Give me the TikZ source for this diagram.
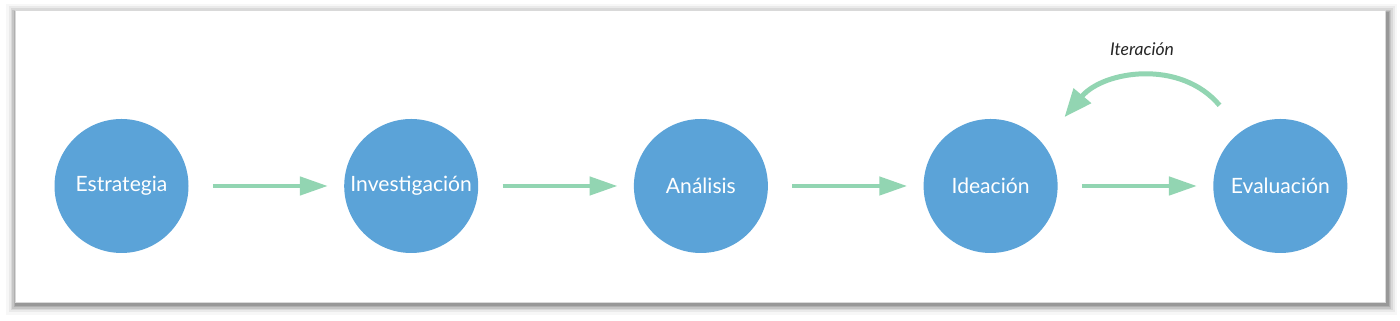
\documentclass[tikz,border=0pt]{standalone}
\usepackage{fontspec}
\setmainfont{Lato}
\usepackage{tikz}
\usetikzlibrary{arrows.meta, positioning, calc}
\definecolor{cBlue}{RGB}{91,163,216}
\definecolor{cMint}{RGB}{146,213,178}
\tikzset{
	phase/.style   ={circle, minimum size=2.68cm, inner sep=0pt, fill=cBlue, text=white, font=\fontsize{12}{14}\selectfont},
	flowarrow/.style={-{Triangle[length=0.56cm, width=0.36cm]}, line width=0.09cm, cMint, shorten <=0.48cm, shorten >=0.32cm},
	iterarrow/.style={-{Triangle[length=0.56cm, width=0.44cm]}, line width=0.1cm, cMint},
}
\begin{document}
\begin{tikzpicture}
	\useasboundingbox (0,0) rectangle (28,6.42);
	% card with soft shadow
	\foreach \d/\o in {0.20/0.03,0.15/0.05,0.11/0.07,0.08/0.09,0.05/0.11,0.03/0.13}
		\fill[black, opacity=\o] (0.3-\d+0.02,0.38-\d-0.06) rectangle (27.7+\d+0.04,6.22+\d-0.08);
	\fill[white] (0.3,0.38) rectangle (27.7,6.22);
	\draw[black!15, line width=0.2pt] (0.3,0.38) rectangle (27.7,6.22);
	% phases
	\node[phase] (estr) at (2.43,2.7) {Estrategia};
	\node[phase, right=3.1cm of estr] (inv) {Investigación};
	\node[phase, right=3.1cm of inv] (anal) {Análisis};
	\node[phase, right=3.1cm of anal] (idea) {Ideación};
	\node[phase, right=3.1cm of idea] (eval) {Evaluación};
	\draw[flowarrow] (estr) -- (inv);
	\draw[flowarrow] (inv) -- (anal);
	\draw[flowarrow] (anal) -- (idea);
	\draw[flowarrow] (idea) -- (eval);
	% iteration loop
	\path (eval) ++(127:2.02) coordinate (itS);
	\path (idea) ++(43:2.02) coordinate (itE);
	\draw[iterarrow] (itS) to[out=130, in=50] node[above=0.24cm, text=black!85, font=\fontsize{10}{12}\selectfont\itshape] {Iteración} (itE);
\end{tikzpicture}
\end{document}
